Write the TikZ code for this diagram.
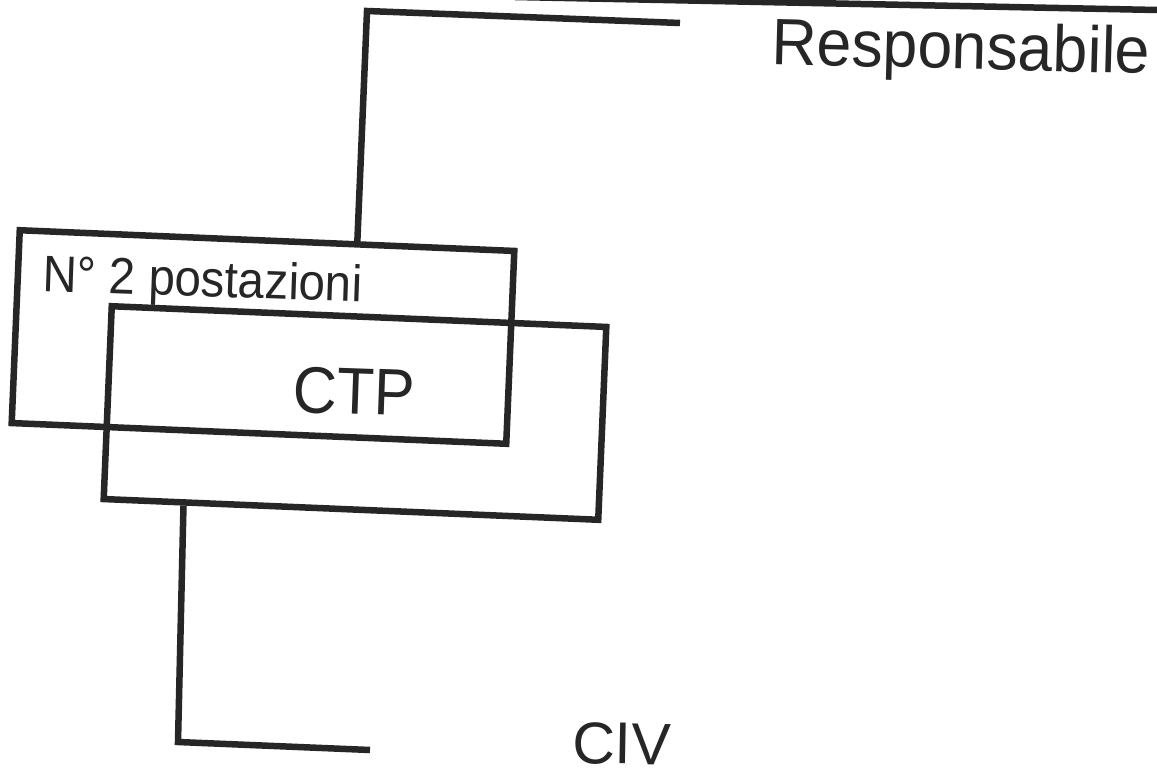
\documentclass[tikz,border=0pt]{standalone}
\usepackage{fontspec}
\setmainfont{Liberation Sans}
\usetikzlibrary{calc}
\begin{document}
\begin{tikzpicture}[x=1pt,y=-1pt,
  ln/.style={line width=6.5pt,color=black!85,line join=miter},
  boxa/.style={draw=black!85,line width=6.5pt,rotate=-2.4,minimum width=495pt,minimum height=193pt,inner sep=0pt},
  lbl/.style={inner sep=0pt,text=black!85,rotate=-2.0}]
\useasboundingbox (0,0) rectangle (1157,778);
\fill[white] (0,0) rectangle (1157,778);
% partially visible line at top
\draw[ln] (515,-3) -- (1157,10);
% boxes
\node[boxa] (b1) at (263,337) {};
\node[boxa] (b2) at (355,413) {};
% texts
\node[lbl,anchor=base west,yscale=1.08,font=\fontsize{47.5}{49}\selectfont] (t1) at (42,291) {N° 2 postazioni};
\node[lbl,anchor=base west,yscale=1.08,font=\fontsize{61}{63}\selectfont] (t2) at (292,412) {CTP};
\node[lbl,anchor=base west,yscale=1.05,rotate=0.5,font=\fontsize{62.5}{64}\selectfont] (t3) at (771,64) {Responsabile};
\node[lbl,anchor=base west,rotate=1,font=\fontsize{59}{61}\selectfont] (t4) at (572,763) {CIV};
% connectors
\coordinate (tc) at (367,11);
\coordinate (te) at (680,23);
\draw[ln] ($(b1.north west)!0.68!(b1.north east)$) -- (tc) -- (te);
\coordinate (bc) at (178,742);
\coordinate (be) at (370,750);
\draw[ln] ($(b2.south west)!0.166!(b2.south east)$) -- (bc) -- (be);
\end{tikzpicture}
\end{document}
